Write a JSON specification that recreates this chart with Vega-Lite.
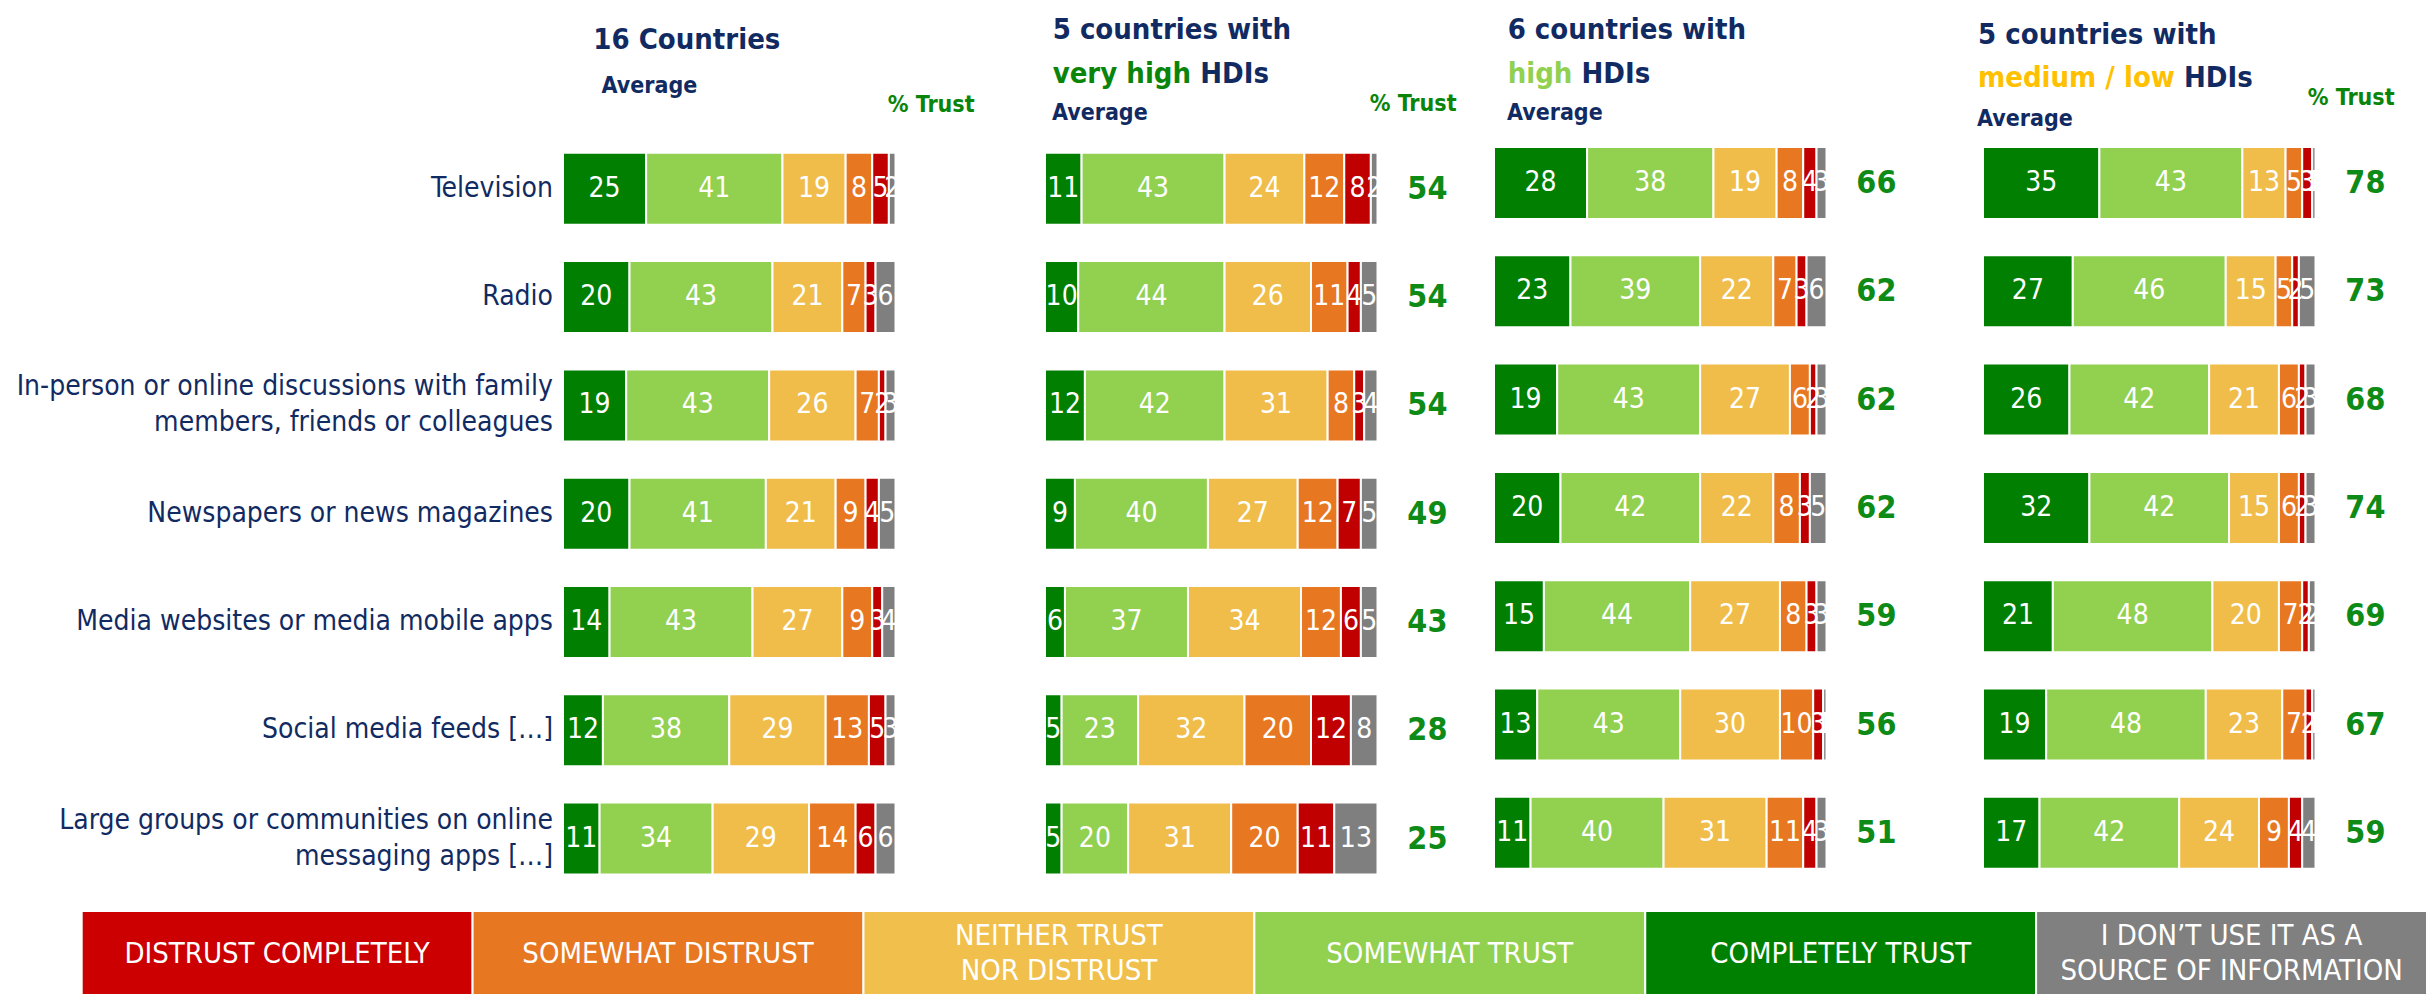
{
 "$schema": "https://vega.github.io/schema/vega-lite/v6.json",
 "background": "white",
 "padding": 0,
 "config": {"view": {"stroke": null}, "font": "DejaVu Sans Condensed"},
 "datasets": {
  "seg": [
   {"g":"all","m":"tv","r":"ct","v":25},{"g":"all","m":"tv","r":"st","v":41},{"g":"all","m":"tv","r":"nt","v":19},{"g":"all","m":"tv","r":"sd","v":8},{"g":"all","m":"tv","r":"dc","v":5},{"g":"all","m":"tv","r":"nu","v":2},
   {"g":"all","m":"radio","r":"ct","v":20},{"g":"all","m":"radio","r":"st","v":43},{"g":"all","m":"radio","r":"nt","v":21},{"g":"all","m":"radio","r":"sd","v":7},{"g":"all","m":"radio","r":"dc","v":3},{"g":"all","m":"radio","r":"nu","v":6},
   {"g":"all","m":"inperson","r":"ct","v":19},{"g":"all","m":"inperson","r":"st","v":43},{"g":"all","m":"inperson","r":"nt","v":26},{"g":"all","m":"inperson","r":"sd","v":7},{"g":"all","m":"inperson","r":"dc","v":2},{"g":"all","m":"inperson","r":"nu","v":3},
   {"g":"all","m":"news","r":"ct","v":20},{"g":"all","m":"news","r":"st","v":41},{"g":"all","m":"news","r":"nt","v":21},{"g":"all","m":"news","r":"sd","v":9},{"g":"all","m":"news","r":"dc","v":4},{"g":"all","m":"news","r":"nu","v":5},
   {"g":"all","m":"web","r":"ct","v":14},{"g":"all","m":"web","r":"st","v":43},{"g":"all","m":"web","r":"nt","v":27},{"g":"all","m":"web","r":"sd","v":9},{"g":"all","m":"web","r":"dc","v":3},{"g":"all","m":"web","r":"nu","v":4},
   {"g":"all","m":"social","r":"ct","v":12},{"g":"all","m":"social","r":"st","v":38},{"g":"all","m":"social","r":"nt","v":29},{"g":"all","m":"social","r":"sd","v":13},{"g":"all","m":"social","r":"dc","v":5},{"g":"all","m":"social","r":"nu","v":3},
   {"g":"all","m":"groups","r":"ct","v":11},{"g":"all","m":"groups","r":"st","v":34},{"g":"all","m":"groups","r":"nt","v":29},{"g":"all","m":"groups","r":"sd","v":14},{"g":"all","m":"groups","r":"dc","v":6},{"g":"all","m":"groups","r":"nu","v":6},
   {"g":"vhigh","m":"tv","r":"ct","v":11},{"g":"vhigh","m":"tv","r":"st","v":43},{"g":"vhigh","m":"tv","r":"nt","v":24},{"g":"vhigh","m":"tv","r":"sd","v":12},{"g":"vhigh","m":"tv","r":"dc","v":8},{"g":"vhigh","m":"tv","r":"nu","v":2},
   {"g":"vhigh","m":"radio","r":"ct","v":10},{"g":"vhigh","m":"radio","r":"st","v":44},{"g":"vhigh","m":"radio","r":"nt","v":26},{"g":"vhigh","m":"radio","r":"sd","v":11},{"g":"vhigh","m":"radio","r":"dc","v":4},{"g":"vhigh","m":"radio","r":"nu","v":5},
   {"g":"vhigh","m":"inperson","r":"ct","v":12},{"g":"vhigh","m":"inperson","r":"st","v":42},{"g":"vhigh","m":"inperson","r":"nt","v":31},{"g":"vhigh","m":"inperson","r":"sd","v":8},{"g":"vhigh","m":"inperson","r":"dc","v":3},{"g":"vhigh","m":"inperson","r":"nu","v":4},
   {"g":"vhigh","m":"news","r":"ct","v":9},{"g":"vhigh","m":"news","r":"st","v":40},{"g":"vhigh","m":"news","r":"nt","v":27},{"g":"vhigh","m":"news","r":"sd","v":12},{"g":"vhigh","m":"news","r":"dc","v":7},{"g":"vhigh","m":"news","r":"nu","v":5},
   {"g":"vhigh","m":"web","r":"ct","v":6},{"g":"vhigh","m":"web","r":"st","v":37},{"g":"vhigh","m":"web","r":"nt","v":34},{"g":"vhigh","m":"web","r":"sd","v":12},{"g":"vhigh","m":"web","r":"dc","v":6},{"g":"vhigh","m":"web","r":"nu","v":5},
   {"g":"vhigh","m":"social","r":"ct","v":5},{"g":"vhigh","m":"social","r":"st","v":23},{"g":"vhigh","m":"social","r":"nt","v":32},{"g":"vhigh","m":"social","r":"sd","v":20},{"g":"vhigh","m":"social","r":"dc","v":12},{"g":"vhigh","m":"social","r":"nu","v":8},
   {"g":"vhigh","m":"groups","r":"ct","v":5},{"g":"vhigh","m":"groups","r":"st","v":20},{"g":"vhigh","m":"groups","r":"nt","v":31},{"g":"vhigh","m":"groups","r":"sd","v":20},{"g":"vhigh","m":"groups","r":"dc","v":11},{"g":"vhigh","m":"groups","r":"nu","v":13},
   {"g":"high","m":"tv","r":"ct","v":28},{"g":"high","m":"tv","r":"st","v":38},{"g":"high","m":"tv","r":"nt","v":19},{"g":"high","m":"tv","r":"sd","v":8},{"g":"high","m":"tv","r":"dc","v":4},{"g":"high","m":"tv","r":"nu","v":3},
   {"g":"high","m":"radio","r":"ct","v":23},{"g":"high","m":"radio","r":"st","v":39},{"g":"high","m":"radio","r":"nt","v":22},{"g":"high","m":"radio","r":"sd","v":7},{"g":"high","m":"radio","r":"dc","v":3},{"g":"high","m":"radio","r":"nu","v":6},
   {"g":"high","m":"inperson","r":"ct","v":19},{"g":"high","m":"inperson","r":"st","v":43},{"g":"high","m":"inperson","r":"nt","v":27},{"g":"high","m":"inperson","r":"sd","v":6},{"g":"high","m":"inperson","r":"dc","v":2},{"g":"high","m":"inperson","r":"nu","v":3},
   {"g":"high","m":"news","r":"ct","v":20},{"g":"high","m":"news","r":"st","v":42},{"g":"high","m":"news","r":"nt","v":22},{"g":"high","m":"news","r":"sd","v":8},{"g":"high","m":"news","r":"dc","v":3},{"g":"high","m":"news","r":"nu","v":5},
   {"g":"high","m":"web","r":"ct","v":15},{"g":"high","m":"web","r":"st","v":44},{"g":"high","m":"web","r":"nt","v":27},{"g":"high","m":"web","r":"sd","v":8},{"g":"high","m":"web","r":"dc","v":3},{"g":"high","m":"web","r":"nu","v":3},
   {"g":"high","m":"social","r":"ct","v":13},{"g":"high","m":"social","r":"st","v":43},{"g":"high","m":"social","r":"nt","v":30},{"g":"high","m":"social","r":"sd","v":10},{"g":"high","m":"social","r":"dc","v":3},{"g":"high","m":"social","r":"nu","v":1},
   {"g":"high","m":"groups","r":"ct","v":11},{"g":"high","m":"groups","r":"st","v":40},{"g":"high","m":"groups","r":"nt","v":31},{"g":"high","m":"groups","r":"sd","v":11},{"g":"high","m":"groups","r":"dc","v":4},{"g":"high","m":"groups","r":"nu","v":3},
   {"g":"mlow","m":"tv","r":"ct","v":35},{"g":"mlow","m":"tv","r":"st","v":43},{"g":"mlow","m":"tv","r":"nt","v":13},{"g":"mlow","m":"tv","r":"sd","v":5},{"g":"mlow","m":"tv","r":"dc","v":3},{"g":"mlow","m":"tv","r":"nu","v":1},
   {"g":"mlow","m":"radio","r":"ct","v":27},{"g":"mlow","m":"radio","r":"st","v":46},{"g":"mlow","m":"radio","r":"nt","v":15},{"g":"mlow","m":"radio","r":"sd","v":5},{"g":"mlow","m":"radio","r":"dc","v":2},{"g":"mlow","m":"radio","r":"nu","v":5},
   {"g":"mlow","m":"inperson","r":"ct","v":26},{"g":"mlow","m":"inperson","r":"st","v":42},{"g":"mlow","m":"inperson","r":"nt","v":21},{"g":"mlow","m":"inperson","r":"sd","v":6},{"g":"mlow","m":"inperson","r":"dc","v":2},{"g":"mlow","m":"inperson","r":"nu","v":3},
   {"g":"mlow","m":"news","r":"ct","v":32},{"g":"mlow","m":"news","r":"st","v":42},{"g":"mlow","m":"news","r":"nt","v":15},{"g":"mlow","m":"news","r":"sd","v":6},{"g":"mlow","m":"news","r":"dc","v":2},{"g":"mlow","m":"news","r":"nu","v":3},
   {"g":"mlow","m":"web","r":"ct","v":21},{"g":"mlow","m":"web","r":"st","v":48},{"g":"mlow","m":"web","r":"nt","v":20},{"g":"mlow","m":"web","r":"sd","v":7},{"g":"mlow","m":"web","r":"dc","v":2},{"g":"mlow","m":"web","r":"nu","v":2},
   {"g":"mlow","m":"social","r":"ct","v":19},{"g":"mlow","m":"social","r":"st","v":48},{"g":"mlow","m":"social","r":"nt","v":23},{"g":"mlow","m":"social","r":"sd","v":7},{"g":"mlow","m":"social","r":"dc","v":2},{"g":"mlow","m":"social","r":"nu","v":1},
   {"g":"mlow","m":"groups","r":"ct","v":17},{"g":"mlow","m":"groups","r":"st","v":42},{"g":"mlow","m":"groups","r":"nt","v":24},{"g":"mlow","m":"groups","r":"sd","v":9},{"g":"mlow","m":"groups","r":"dc","v":4},{"g":"mlow","m":"groups","r":"nu","v":4}
  ],
  "trust": [
   {"g":"vhigh","m":"tv","t":54},{"g":"vhigh","m":"radio","t":54},{"g":"vhigh","m":"inperson","t":54},{"g":"vhigh","m":"news","t":49},{"g":"vhigh","m":"web","t":43},{"g":"vhigh","m":"social","t":28},{"g":"vhigh","m":"groups","t":25},
   {"g":"high","m":"tv","t":66},{"g":"high","m":"radio","t":62},{"g":"high","m":"inperson","t":62},{"g":"high","m":"news","t":62},{"g":"high","m":"web","t":59},{"g":"high","m":"social","t":56},{"g":"high","m":"groups","t":51},
   {"g":"mlow","m":"tv","t":78},{"g":"mlow","m":"radio","t":73},{"g":"mlow","m":"inperson","t":68},{"g":"mlow","m":"news","t":74},{"g":"mlow","m":"web","t":69},{"g":"mlow","m":"social","t":67},{"g":"mlow","m":"groups","t":59}
  ],
  "media": [
   {"m":"tv","label":"Television"},
   {"m":"radio","label":"Radio"},
   {"m":"inperson","label":"In-person or online discussions with family\nmembers, friends or colleagues"},
   {"m":"news","label":"Newspapers or news magazines"},
   {"m":"web","label":"Media websites or media mobile apps"},
   {"m":"social","label":"Social media feeds […]"},
   {"m":"groups","label":"Large groups or communities on online\nmessaging apps […]"}
  ],
  "legend": [
   {"k":"dc","label":"DISTRUST COMPLETELY"},
   {"k":"sd","label":"SOMEWHAT DISTRUST"},
   {"k":"nt","label":"NEITHER TRUST\nNOR DISTRUST"},
   {"k":"st","label":"SOMEWHAT TRUST"},
   {"k":"ct","label":"COMPLETELY TRUST"},
   {"k":"nu","label":"I DON’T USE IT AS A\nSOURCE OF INFORMATION"}
  ]
 },
 "spacing": 0,
 "bounds": "full",
 "resolve": {"scale": {"x": "independent", "y": "independent", "color": "independent"}},
 "vconcat": [
  {
   "columns": 5,
   "spacing": {"row": 0, "column": 10},
   "bounds": "flush",
   "align": "each",
   "resolve": {"scale": {"x": "independent", "y": "independent", "color": "independent"}},
   "concat": [
    {"width": 553, "height": 146.5, "data": {"values": [{}]}, "mark": {"type": "text"}, "encoding": {"text": {"value": ""}}},
    {"width": 472, "height": 146.5, "data": {"values": [{}]},
     "layer": [
      {"mark": {"type": "text", "align": "left", "baseline": "alphabetic", "fontSize": 29, "fontWeight": "bold", "color": "#112B62"},
       "encoding": {"x": {"datum": 9.1, "type": "quantitative", "scale": {"domain": [0, 141.95], "nice": false, "zero": false}, "axis": null},
        "y": {"datum": "1", "type": "ordinal", "scale": {"type": "point", "domain": ["1","2","3"], "padding": 0.6875, "align": 0.826}, "axis": null},
        "text": {"value": "16 Countries"}}},
      {"mark": {"type": "text", "align": "left", "baseline": "alphabetic", "fontSize": 23, "fontWeight": "bold", "color": "#112B62"},
       "encoding": {"x": {"datum": 11.6, "type": "quantitative"}, "y": {"datum": "2", "type": "ordinal"}, "text": {"value": "Average"}}},
      {"mark": {"type": "text", "align": "left", "baseline": "alphabetic", "fontSize": 23, "fontWeight": "bold", "color": "#0A850A", "dy": -24.6},
       "encoding": {"x": {"datum": 97.7, "type": "quantitative"}, "y": {"datum": "3", "type": "ordinal"}, "text": {"value": "% Trust"}}}
     ]},
    {"width": 439, "height": 146.5, "data": {"values": [{}]},
     "layer": [
      {"mark": {"type": "text", "align": "left", "baseline": "alphabetic", "fontSize": 29, "fontWeight": "bold", "color": "#112B62"},
       "encoding": {"x": {"datum": 2.3, "type": "quantitative", "scale": {"domain": [0, 132.03], "nice": false, "zero": false}, "axis": null},
        "y": {"datum": "1", "type": "ordinal", "scale": {"type": "point", "domain": ["1","2","3"], "padding": 0.6875, "align": 0.658}, "axis": null},
        "text": {"value": "5 countries with"}}},
      {"mark": {"type": "text", "align": "left", "baseline": "alphabetic", "fontSize": 29, "fontWeight": "bold", "color": "#0A850A"},
       "encoding": {"x": {"datum": 2.3, "type": "quantitative"}, "y": {"datum": "2", "type": "ordinal"}, "text": {"value": "very high"}}},
      {"mark": {"type": "text", "align": "left", "baseline": "alphabetic", "fontSize": 29, "fontWeight": "bold", "color": "#112B62", "dx": 147.6},
       "encoding": {"x": {"datum": 2.3, "type": "quantitative"}, "y": {"datum": "2", "type": "ordinal"}, "text": {"value": "HDIs"}}},
      {"mark": {"type": "text", "align": "left", "baseline": "alphabetic", "fontSize": 23, "fontWeight": "bold", "color": "#112B62", "dy": -6.4},
       "encoding": {"x": {"datum": 2.1, "type": "quantitative"}, "y": {"datum": "3", "type": "ordinal"}, "text": {"value": "Average"}}},
      {"mark": {"type": "text", "align": "left", "baseline": "alphabetic", "fontSize": 23, "fontWeight": "bold", "color": "#0A850A", "dy": -14.6},
       "encoding": {"x": {"datum": 97.7, "type": "quantitative"}, "y": {"datum": "3", "type": "ordinal"}, "text": {"value": "% Trust"}}}
     ]},
    {"width": 479, "height": 146.5, "data": {"values": [{}]},
     "layer": [
      {"mark": {"type": "text", "align": "left", "baseline": "alphabetic", "fontSize": 29, "fontWeight": "bold", "color": "#112B62"},
       "encoding": {"x": {"datum": 4.1, "type": "quantitative", "scale": {"domain": [0, 144.06], "nice": false, "zero": false}, "axis": null},
        "y": {"datum": "1", "type": "ordinal", "scale": {"type": "point", "domain": ["1","2","3"], "padding": 0.6875, "align": 0.658}, "axis": null},
        "text": {"value": "6 countries with"}}},
      {"mark": {"type": "text", "align": "left", "baseline": "alphabetic", "fontSize": 29, "fontWeight": "bold", "color": "#92D050"},
       "encoding": {"x": {"datum": 4.1, "type": "quantitative"}, "y": {"datum": "2", "type": "ordinal"}, "text": {"value": "high"}}},
      {"mark": {"type": "text", "align": "left", "baseline": "alphabetic", "fontSize": 29, "fontWeight": "bold", "color": "#112B62", "dx": 73.9},
       "encoding": {"x": {"datum": 4.1, "type": "quantitative"}, "y": {"datum": "2", "type": "ordinal"}, "text": {"value": "HDIs"}}},
      {"mark": {"type": "text", "align": "left", "baseline": "alphabetic", "fontSize": 23, "fontWeight": "bold", "color": "#112B62", "dy": -6.4},
       "encoding": {"x": {"datum": 3.9, "type": "quantitative"}, "y": {"datum": "3", "type": "ordinal"}, "text": {"value": "Average"}}}
     ]},
    {"width": 444, "height": 146.5, "data": {"values": [{}]},
     "layer": [
      {"mark": {"type": "text", "align": "left", "baseline": "alphabetic", "fontSize": 29, "fontWeight": "bold", "color": "#112B62"},
       "encoding": {"x": {"datum": -1.5, "type": "quantitative", "scale": {"domain": [0, 133.53], "nice": false, "zero": false}, "axis": null},
        "y": {"datum": "1", "type": "ordinal", "scale": {"type": "point", "domain": ["1","2","3"], "padding": 0.6875, "align": 0.734}, "axis": null},
        "text": {"value": "5 countries with"}}},
      {"mark": {"type": "text", "align": "left", "baseline": "alphabetic", "fontSize": 29, "fontWeight": "bold", "color": "#FFC000"},
       "encoding": {"x": {"datum": -1.5, "type": "quantitative"}, "y": {"datum": "2", "type": "ordinal"}, "text": {"value": "medium / low"}}},
      {"mark": {"type": "text", "align": "left", "baseline": "alphabetic", "fontSize": 29, "fontWeight": "bold", "color": "#112B62", "dx": 206},
       "encoding": {"x": {"datum": -1.5, "type": "quantitative"}, "y": {"datum": "2", "type": "ordinal"}, "text": {"value": "HDIs"}}},
      {"mark": {"type": "text", "align": "left", "baseline": "alphabetic", "fontSize": 23, "fontWeight": "bold", "color": "#112B62", "dy": -4.2},
       "encoding": {"x": {"datum": -1.8, "type": "quantitative"}, "y": {"datum": "3", "type": "ordinal"}, "text": {"value": "Average"}}},
      {"mark": {"type": "text", "align": "left", "baseline": "alphabetic", "fontSize": 23, "fontWeight": "bold", "color": "#0A850A", "dy": -25.6},
       "encoding": {"x": {"datum": 97.7, "type": "quantitative"}, "y": {"datum": "3", "type": "ordinal"}, "text": {"value": "% Trust"}}}
     ]},
    {"width": 553, "height": 762.5, "data": {"name": "media"},
     "encoding": {
      "x": {"datum": 1, "type": "quantitative", "scale": {"domain": [0, 1], "nice": false, "zero": false}, "axis": null},
      "y": {"field": "m", "type": "nominal", "scale": {"type": "band", "domain": ["tv","radio","inperson","news","web","social","groups"], "paddingInner": 0.3352, "paddingOuter": 0.1879, "align": 0.1425, "round": false}, "axis": null},
      "text": {"field": "label"}},
     "layer": [
      {"transform": [{"filter": "indexof(datum.label, '\\n') < 0"}],
       "mark": {"type": "text", "align": "right", "baseline": "middle", "fontSize": 28, "color": "#112B62", "lineBreak": "\n", "lineHeight": 36}},
      {"transform": [{"filter": "indexof(datum.label, '\\n') >= 0"}],
       "mark": {"type": "text", "align": "right", "baseline": "middle", "fontSize": 28, "color": "#112B62", "lineBreak": "\n", "lineHeight": 36, "dy": -18}}
     ]},
    {"width": 472, "height": 762.5,
     "data": {"name": "seg"},
     "transform": [{"filter": "datum.g === 'all'"}, {"stack": "v", "groupby": ["m"], "as": ["x0", "x1"]}, {"calculate": "(datum.x0 + datum.x1) / 2", "as": "xm"}],
     "encoding": {"y": {"field": "m", "type": "nominal", "scale": {"type": "band", "domain": ["tv","radio","inperson","news","web","social","groups"], "paddingInner": 0.3352, "paddingOuter": 0.1879, "align": 0.1425, "round": false}, "axis": null}},
     "layer": [
      {"mark": {"type": "bar", "stroke": "white", "strokeWidth": 2},
       "encoding": {"x": {"field": "x0", "type": "quantitative", "scale": {"domain": [0, 141.95], "nice": false, "zero": false}, "axis": null}, "x2": {"field": "x1"},
        "color": {"field": "r", "type": "nominal", "scale": {"domain": ["ct","st","nt","sd","dc","nu"], "range": ["#007F00","#92D050","#F0BD4B","#E87722","#C00000","#7F7F7F"]}, "legend": null}}},
      {"mark": {"type": "text", "color": "white", "fontSize": 28, "baseline": "middle", "align": "center"},
       "encoding": {"x": {"field": "xm", "type": "quantitative"}, "text": {"field": "v", "type": "quantitative"}}}
     ]},
    {"width": 439, "height": 762.5,
     "encoding": {"y": {"field": "m", "type": "nominal", "scale": {"type": "band", "domain": ["tv","radio","inperson","news","web","social","groups"], "paddingInner": 0.3352, "paddingOuter": 0.1879, "align": 0.1425, "round": false}, "axis": null}},
     "layer": [
      {"data": {"name": "seg"},
       "transform": [{"filter": "datum.g === 'vhigh'"}, {"stack": "v", "groupby": ["m"], "as": ["x0", "x1"]}, {"calculate": "(datum.x0 + datum.x1) / 2", "as": "xm"}],
       "layer": [
        {"mark": {"type": "bar", "stroke": "white", "strokeWidth": 2},
         "encoding": {"x": {"field": "x0", "type": "quantitative", "scale": {"domain": [0, 132.03], "nice": false, "zero": false}, "axis": null}, "x2": {"field": "x1"},
          "color": {"field": "r", "type": "nominal", "scale": {"domain": ["ct","st","nt","sd","dc","nu"], "range": ["#007F00","#92D050","#F0BD4B","#E87722","#C00000","#7F7F7F"]}, "legend": null}}},
        {"mark": {"type": "text", "color": "white", "fontSize": 28, "baseline": "middle", "align": "center"},
         "encoding": {"x": {"field": "xm", "type": "quantitative"}, "text": {"field": "v", "type": "quantitative"}}}
       ]},
      {"data": {"name": "trust"}, "transform": [{"filter": "datum.g === 'vhigh'"}],
       "mark": {"type": "text", "fontSize": 32, "fontWeight": "bold", "color": "#0E8A16", "baseline": "middle", "align": "center"},
       "encoding": {"x": {"datum": 115, "type": "quantitative"}, "text": {"field": "t", "type": "quantitative"}}}
     ]},
    {"width": 479, "height": 762.5,
     "encoding": {"y": {"field": "m", "type": "nominal", "scale": {"type": "band", "domain": ["tv","radio","inperson","news","web","social","groups"], "paddingInner": 0.3352, "paddingOuter": 0.1879, "align": 0, "round": false}, "axis": null}},
     "layer": [
      {"data": {"name": "seg"},
       "transform": [{"filter": "datum.g === 'high'"}, {"stack": "v", "groupby": ["m"], "as": ["x0", "x1"]}, {"calculate": "(datum.x0 + datum.x1) / 2", "as": "xm"}],
       "layer": [
        {"mark": {"type": "bar", "stroke": "white", "strokeWidth": 2},
         "encoding": {"x": {"field": "x0", "type": "quantitative", "scale": {"domain": [0, 144.06], "nice": false, "zero": false}, "axis": null}, "x2": {"field": "x1"},
          "color": {"field": "r", "type": "nominal", "scale": {"domain": ["ct","st","nt","sd","dc","nu"], "range": ["#007F00","#92D050","#F0BD4B","#E87722","#C00000","#7F7F7F"]}, "legend": null}}},
        {"mark": {"type": "text", "color": "white", "fontSize": 28, "baseline": "middle", "align": "center"},
         "encoding": {"x": {"field": "xm", "type": "quantitative"}, "text": {"field": "v", "type": "quantitative"}}}
       ]},
      {"data": {"name": "trust"}, "transform": [{"filter": "datum.g === 'high'"}],
       "mark": {"type": "text", "fontSize": 32, "fontWeight": "bold", "color": "#0E8A16", "baseline": "middle", "align": "center"},
       "encoding": {"x": {"datum": 115, "type": "quantitative"}, "text": {"field": "t", "type": "quantitative"}}}
     ]},
    {"width": 444, "height": 762.5,
     "encoding": {"y": {"field": "m", "type": "nominal", "scale": {"type": "band", "domain": ["tv","radio","inperson","news","web","social","groups"], "paddingInner": 0.3352, "paddingOuter": 0.1879, "align": 0, "round": false}, "axis": null}},
     "layer": [
      {"data": {"name": "seg"},
       "transform": [{"filter": "datum.g === 'mlow'"}, {"stack": "v", "groupby": ["m"], "as": ["x0", "x1"]}, {"calculate": "(datum.x0 + datum.x1) / 2", "as": "xm"}],
       "layer": [
        {"mark": {"type": "bar", "stroke": "white", "strokeWidth": 2},
         "encoding": {"x": {"field": "x0", "type": "quantitative", "scale": {"domain": [0, 133.53], "nice": false, "zero": false}, "axis": null}, "x2": {"field": "x1"},
          "color": {"field": "r", "type": "nominal", "scale": {"domain": ["ct","st","nt","sd","dc","nu"], "range": ["#007F00","#92D050","#F0BD4B","#E87722","#C00000","#7F7F7F"]}, "legend": null}}},
        {"mark": {"type": "text", "color": "white", "fontSize": 28, "baseline": "middle", "align": "center"},
         "encoding": {"x": {"field": "xm", "type": "quantitative"}, "text": {"field": "v", "type": "quantitative"}}}
       ]},
      {"data": {"name": "trust"}, "transform": [{"filter": "datum.g === 'mlow'"}],
       "mark": {"type": "text", "fontSize": 32, "fontWeight": "bold", "color": "#0E8A16", "baseline": "middle", "align": "center"},
       "encoding": {"x": {"datum": 115, "type": "quantitative"}, "text": {"field": "t", "type": "quantitative"}}}
     ]}
   ]
  },
  {"width": 2427, "height": 85, "data": {"name": "legend"},
   "encoding": {"x": {"field": "k", "type": "nominal", "scale": {"type": "band", "domain": ["dc","sd","nt","st","ct","nu"], "paddingInner": 0, "paddingOuter": 0.1045, "align": 1, "round": false}, "axis": null}},
   "layer": [
    {"mark": {"type": "bar", "stroke": "white", "strokeWidth": 2},
     "encoding": {"color": {"field": "k", "type": "nominal", "scale": {"domain": ["dc","sd","nt","st","ct","nu"], "range": ["#CC0000","#E87722","#F0BF4C","#92D050","#008000","#808080"]}, "legend": null}}},
    {"transform": [{"filter": "indexof(datum.label, '\\n') < 0"}],
     "mark": {"type": "text", "color": "white", "fontSize": 29, "baseline": "middle", "align": "center", "lineBreak": "\n", "lineHeight": 35},
     "encoding": {"text": {"field": "label"}}},
    {"transform": [{"filter": "indexof(datum.label, '\\n') >= 0"}],
     "mark": {"type": "text", "color": "white", "fontSize": 29, "baseline": "middle", "align": "center", "lineBreak": "\n", "lineHeight": 35, "dy": -17.5},
     "encoding": {"text": {"field": "label"}}}
   ]}
 ]
}
